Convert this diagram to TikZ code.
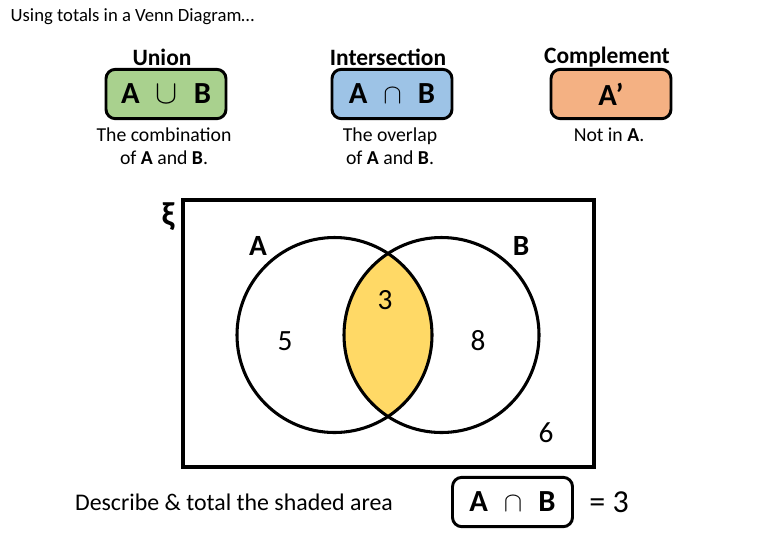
\documentclass[tikz,border=0pt]{standalone}
\usepackage{fontspec}
\setmainfont{Carlito}
\usetikzlibrary{positioning}
\definecolor{unionfill}{HTML}{A9D18E}
\definecolor{interfill}{HTML}{9DC3E6}
\definecolor{compfill}{HTML}{F4B183}
\definecolor{shadefill}{HTML}{FFD966}
\newcommand{\VennRad}{97.5}
\newcommand{\SymGap}{\hspace{12pt}}
\newcommand{\SetSym}[2]{{\mdseries\fontsize{#1}{28}\selectfont$#2$}}
\tikzset{
  setcard/.style={
    draw=black,
    line width=2.2pt,
    rounded corners=7pt,
    minimum width=90pt,
    minimum height=37pt,
    inner sep=0pt,
    font=\fontsize{23}{26}\selectfont\bfseries
  },
  cardhead/.style={font=\fontsize{17.6}{20}\selectfont\bfseries},
  carddesc/.style={font=\fontsize{14.8}{17.3}\selectfont,align=center},
  vennline/.style={line width=2.3pt},
  regionnum/.style={font=\fontsize{22}{25}\selectfont},
  setname/.style={font=\fontsize{22}{25}\selectfont\bfseries}
}

\begin{document}
\begin{tikzpicture}[x=0.75pt,y=-0.75pt]
  \useasboundingbox (0,0) rectangle (780,540);

  \node[anchor=west,font=\fontsize{14}{17}\selectfont] (title) at (6,17)
    {Using totals in a Venn Diagram…};

  % the three set cards
  \foreach \cx/\cname/\chead/\csym/\cfill/\cdesc in {
      166/union/Union/{A\SymGap\SetSym{25}{\cup}\SymGap B}/unionfill/{The combination\\ of \textbf{A} and \textbf{B}.},
      392/inter/Intersection/{A\SymGap\SetSym{20}{\cap}\SymGap B}/interfill/{The overlap\\ of \textbf{A} and \textbf{B}.},
      611/comp/Complement/{A’}/compfill/{Not in \textbf{A}.}} {
    \node[setcard,fill=\cfill] (\cname) at (\cx,94) {\csym};
    \node[cardhead] (\cname-head) at (\cx-4,57) {\chead};
    \node[carddesc,anchor=north] (\cname-desc) at (\cx-2,123) {\cdesc};
  }

  % universal set and circles
  \coordinate (cA) at (334.5,335);
  \coordinate (cB) at (441.5,335);
  \begin{scope}
    \clip (cA) circle[radius=\VennRad];
    \fill[shadefill] (cB) circle[radius=\VennRad];
  \end{scope}
  \draw[vennline] (cA) circle[radius=\VennRad];
  \draw[vennline] (cB) circle[radius=\VennRad];
  \draw[vennline] (183,200) rectangle (594,467);

  \node[setname,font=\fontsize{25}{28}\selectfont\bfseries] (xi) at (168,217) {ξ};
  \node[setname] (labA) at (258,246) {A};
  \node[setname] (labB) at (521,246) {B};

  \node[regionnum] (onlyA) at (285,341) {5};
  \node[regionnum] (both) at (385,300) {3};
  \node[regionnum] (onlyB) at (478,341) {8};
  \node[regionnum] (neither) at (546,433) {6};

  % question line
  \node[font=\fontsize{17.9}{20}\selectfont] (task) at (234,502)
    {Describe \& total the shaded area};
  \node[setcard] (answer) at (512.5,502) {A\SymGap\SetSym{20}{\cap}\SymGap B};
  \node[regionnum,font=\fontsize{24}{27}\selectfont,right=8pt of answer] (total) {= 3};
\end{tikzpicture}
\end{document}
